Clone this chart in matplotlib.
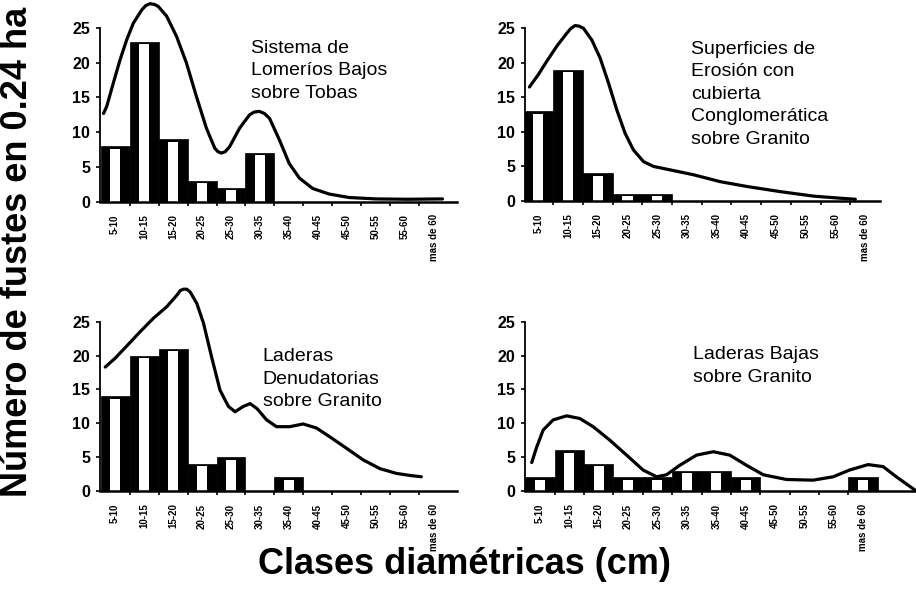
import matplotlib
matplotlib.use('Agg')
import matplotlib.pyplot as plt
import numpy as np

plt.rcParams['font.family'] = ['Liberation Sans', 'DejaVu Sans']

categories = ['5-10', '10-15', '15-20', '20-25', '25-30', '30-35', '35-40',
              '40-45', '45-50', '50-55', '55-60', 'mas de 60']

# number of stems per diameter class
bars_tl = [8, 23, 9, 3, 2, 7, 0, 0, 0, 0, 0, 0]
bars_tr = [13, 19, 4, 1, 1, 0, 0, 0, 0, 0, 0, 0]
bars_bl = [14, 20, 21, 4, 5, 0, 2, 0, 0, 0, 0, 0]
bars_br = [2, 6, 4, 2, 2, 3, 3, 2, 0, 0, 0, 2]

# smoothed trend curves (class position, value)
curve_x_tl = [-0.40, -0.29, -0.06, 0.17, 0.40, 0.63, 0.92, 1.05, 1.20, 1.35, 1.49, 1.78, 2.12,
              2.46, 2.81, 3.15, 3.44, 3.55, 3.67, 3.80, 3.95, 4.30, 4.64, 4.80, 4.98, 5.15,
              5.33, 5.67, 6.01, 6.36, 6.82, 7.39, 8.08, 9.00, 10.1, 11.3]
curve_y_tl = [12.7, 13.7, 17.1, 20.4, 23.3, 25.7, 27.6, 28.2, 28.5, 28.4, 28.1, 26.7, 23.8,
              20.0, 15.1, 10.6, 7.7, 7.2, 7.0, 7.2, 7.9, 10.6, 12.5, 12.9, 13.0, 12.7,
              12.0, 8.9, 5.5, 3.4, 1.9, 1.1, 0.6, 0.4, 0.35, 0.4]

curve_x_tr = [-0.30, 0.00, 0.28, 0.62, 0.96, 1.10, 1.24, 1.38, 1.52, 1.80, 2.08, 2.36, 2.64,
              2.92, 3.20, 3.54, 3.88, 4.44, 5.22, 6.12, 7.02, 8.15, 9.27, 10.17, 10.67]
curve_y_tr = [16.5, 18.3, 20.2, 22.4, 24.3, 25.0, 25.4, 25.3, 25.0, 23.3, 20.7, 17.1, 13.2,
              9.8, 7.4, 5.7, 5.0, 4.5, 3.8, 2.8, 2.1, 1.35, 0.7, 0.4, 0.25]

curve_x_bl = [-0.34, 0.00, 0.40, 0.86, 1.32, 1.78, 2.13, 2.25, 2.36, 2.47, 2.59, 2.82, 3.05,
              3.33, 3.62, 3.91, 4.14, 4.43, 4.66, 4.89, 5.23, 5.57, 6.03, 6.49, 6.95, 7.41,
              7.99, 8.56, 9.14, 9.71, 10.17, 10.57]
curve_y_bl = [18.3, 19.6, 21.4, 23.5, 25.5, 27.2, 28.9, 29.6, 29.8, 29.8, 29.4, 27.7, 24.8,
              19.8, 14.9, 12.5, 11.7, 12.5, 12.9, 12.2, 10.5, 9.5, 9.5, 9.9, 9.3, 8.0,
              6.3, 4.6, 3.3, 2.6, 2.3, 2.1]

curve_x_br = [-0.28, -0.11, 0.11, 0.45, 0.91, 1.36, 1.81, 2.38, 2.95, 3.51, 3.97, 4.31, 4.76,
              5.33, 5.90, 6.46, 7.03, 7.60, 8.39, 9.30, 9.98, 10.54, 11.17, 11.68, 12.13, 12.76]
curve_y_br = [4.2, 6.5, 9.0, 10.5, 11.1, 10.7, 9.5, 7.5, 5.3, 3.1, 2.1, 2.4, 3.8,
              5.3, 5.8, 5.3, 3.8, 2.4, 1.7, 1.6, 2.1, 3.1, 3.9, 3.6, 2.1, 0.15]

titles = ['Sistema de\nLomeríos Bajos\nsobre Tobas',
          'Superficies de\nErosión con\ncubierta\nConglomerática\nsobre Granito',
          'Laderas\nDenudatorias\nsobre Granito',
          'Laderas Bajas\nsobre Granito']

panels = [
    # rect, xlim, bars, curve x, curve y, title, text pos
    ([0.1092, 0.6593, 0.3897, 0.2934], (-0.52, 11.8), bars_tl, curve_x_tl, curve_y_tl, titles[0], (4.7, 23.3)),
    ([0.5731, 0.6605, 0.3876, 0.2917], (-0.45, 11.5), bars_tr, curve_x_tr, curve_y_tr, titles[1], (5.15, 23.2)),
    ([0.1092, 0.1706, 0.3897, 0.2860], (-0.52, 11.8), bars_bl, curve_x_bl, curve_y_bl, titles[2], (5.1, 21.1)),
    ([0.5731, 0.1706, 0.4269, 0.2860], (-0.51, 12.8), bars_br, curve_x_br, curve_y_br, titles[3], (5.2, 21.4)),
]

fig = plt.figure(figsize=(9.16, 5.92), dpi=100)

for rect, xlim, bars, cx, cy, title, tpos in panels:
    ax = fig.add_axes(rect)
    x = np.arange(len(categories))
    vals = np.array(bars, dtype=float)
    ax.bar(x, vals, width=1.0, color='black', edgecolor='black', linewidth=0.5)
    inner = np.where(vals > 0, vals - 0.35, 0)
    ax.bar(x, inner, width=0.34, color='white', linewidth=0)
    ax.plot(cx, cy, color='black', lw=2.3, clip_on=False, solid_capstyle='round',
            solid_joinstyle='round', zorder=5)

    ax.set_xlim(*xlim)
    ax.set_ylim(0, 25)
    ax.set_yticks([0, 5, 10, 15, 20, 25])
    ax.set_xticks(x)
    ax.set_xticks(x[:-1] + 0.5, minor=True)
    ax.set_xticklabels(categories, rotation=90, va='top', fontsize=7, fontweight='bold')
    for lab in ax.get_yticklabels():
        lab.set_fontweight('bold')
        lab.set_fontsize(11.5)
    ax.tick_params(axis='x', which='major', length=0, pad=9)
    ax.tick_params(axis='x', which='minor', length=3, width=1.2, direction='out')
    ax.tick_params(axis='y', length=3, width=1.2, direction='out', pad=4)

    ax.spines['top'].set_visible(False)
    ax.spines['right'].set_visible(False)
    ax.spines['left'].set_linewidth(1.3)
    ax.spines['bottom'].set_linewidth(1.8)
    ax.patch.set_alpha(0)

    ax.text(tpos[0], tpos[1], title, fontsize=14, va='top', ha='left', linespacing=1.42)

fig.text(0.019, 0.575, 'Número de fustes en 0.24 ha', rotation=90, fontsize=26,
         fontweight='bold', ha='center', va='center')
fig.text(0.507, 0.047, 'Clases diamétricas (cm)', fontsize=26, fontweight='bold',
         ha='center', va='center')

fig.savefig('out.png', dpi=100)
